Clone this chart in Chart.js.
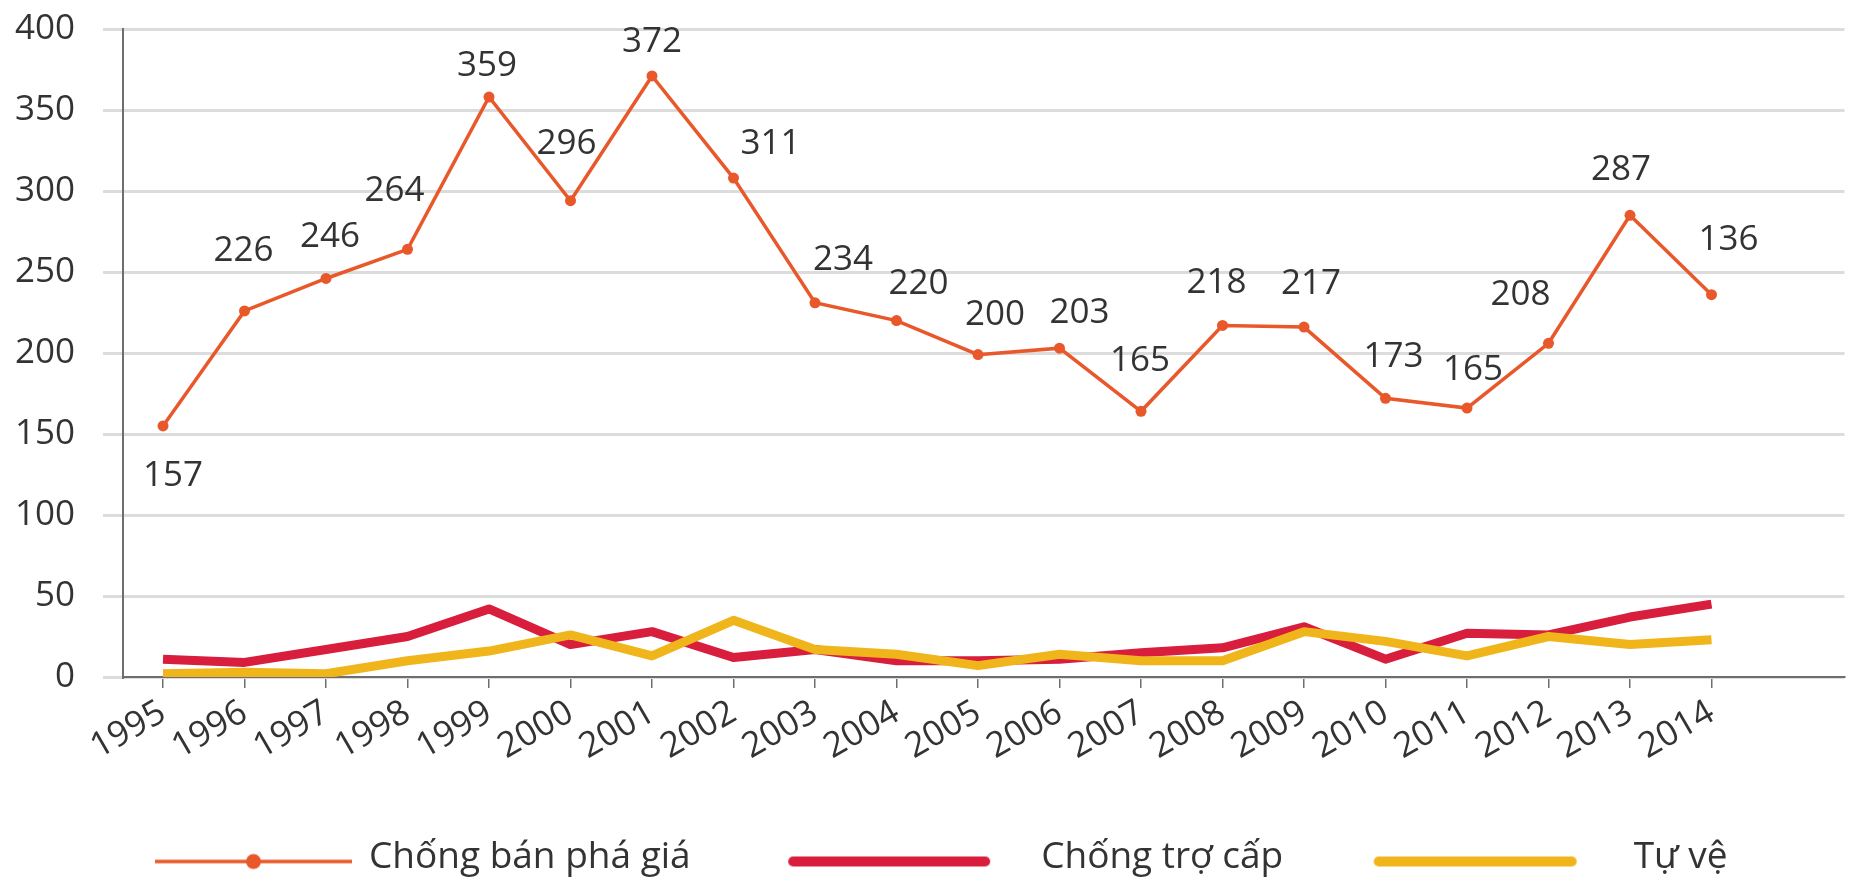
<!DOCTYPE html>
<html><head><meta charset="utf-8">
<script src="https://cdn.jsdelivr.net/npm/chart.js@4.4.1/dist/chart.umd.min.js"></script>
<style>html,body{margin:0;padding:0;background:#fff}#wrap{width:1850px;height:882px;position:relative}</style>
</head><body><div id="wrap"><canvas id="c"></canvas></div>
<script>
const years = [1995,1996,1997,1998,1999,2000,2001,2002,2003,2004,2005,2006,2007,2008,2009,2010,2011,2012,2013,2014];
const antiDumping = [155,226,246,264,358,294,371,308,231,220,199,203,164,217,216,172,166,206,285,236];
const antiDumpingLabels = ["157","226","246","264","359","296","372","311","234","220","200","203","165","218","217","173","165","208","287","136"];
const countervailing = [11,9,17,25,42,20,28,12,17,10,10,11,15,18,31,11,27,26,37,45];
const safeguards = [2,3,2,10,16,26,13,35,17,14,7,14,10,10,28,22,13,25,20,23];
const seriesNames = ["Chống bán phá giá","Chống trợ cấp","Tự vệ"];
const yTickValues = [0,50,100,150,200,250,300,350,400];

const FONT = 'Open Sans';
const TEXT = '#333333';
const ORANGE = '#e9582a', RED = '#d81d3d', YELLOW = '#f1b51c';

// legend symbols (style only)
const LEG_BOX = 322, IMG_W = 325, IMG_H = 30, LINE_Y = 19;
function legendImg(color, width, dot, rightGap, len) {
  const c = document.createElement('canvas');
  c.width = IMG_W; c.height = IMG_H;
  const g = c.getContext('2d');
  const end = IMG_W - rightGap, start = end - len;
  g.strokeStyle = color; g.lineWidth = width; g.lineCap = dot ? 'butt' : 'round';
  const pad = dot ? 0 : width / 2;
  g.beginPath(); g.moveTo(start + pad, LINE_Y); g.lineTo(end - pad, LINE_Y); g.stroke();
  if (dot) { g.fillStyle = color; g.beginPath(); g.arc((start + end) / 2, LINE_Y, 7.5, 0, Math.PI * 2); g.fill(); }
  return c;
}
const legendImgs = [
  legendImg(ORANGE, 3.5, true, 0, 197),
  legendImg(RED, 10, false, 34, 202),
  legendImg(YELLOW, 10, false, 40, 203)
];

const valueLabels = {
  id: 'valueLabels',
  afterDatasetsDraw(chart, args, opts) {
    const meta = chart.getDatasetMeta(0);
    const ctx = chart.ctx;
    ctx.save();
    ctx.font = '35px "' + FONT + '"';
    ctx.fillStyle = TEXT; ctx.textAlign = 'center'; ctx.textBaseline = 'middle';
    meta.data.forEach((pt, i) => ctx.fillText(antiDumpingLabels[i], pt.x + opts.dx[i], pt.y + opts.dy[i]));
    ctx.restore();
  }
};
const legendShift = {
  id: 'legendShift',
  afterLayout(chart, args, opts) {
    const lg = chart.legend;
    if (!lg || !lg.lineWidths) return;
    const p = lg.options.labels.padding;
    const x1 = (lg.left + p + lg.right - lg.lineWidths[0]) / 2;
    const dx = opts.firstX - x1;
    lg.left += dx; lg.right += dx;
  }
};

const toXY = arr => arr.map((v, i) => ({x: years[i], y: v}));

new Chart(document.getElementById('c'), {
  type: 'line',
  data: {
    datasets: [
      {label: seriesNames[0], data: toXY(antiDumping), borderColor: ORANGE, backgroundColor: ORANGE, borderWidth: 3.5, pointRadius: 5.5, pointBackgroundColor: ORANGE, pointBorderWidth: 0, tension: 0, order: 0},
      {label: seriesNames[1], data: toXY(countervailing), borderColor: RED, backgroundColor: RED, borderWidth: 9, pointRadius: 0, tension: 0, borderJoinStyle: 'round', order: 2},
      {label: seriesNames[2], data: toXY(safeguards), borderColor: YELLOW, backgroundColor: YELLOW, borderWidth: 9, pointRadius: 0, tension: 0, borderJoinStyle: 'round', order: 1}
    ]
  },
  plugins: [valueLabels, legendShift],
  options: {
    responsive: true, maintainAspectRatio: false, animation: false,
    layout: {padding: {top: 29, right: 5, bottom: -4, left: 0}},
    scales: {
      x: {
        type: 'linear', min: 1994.509, max: 2015.632,
        afterBuildTicks: s => { s.ticks = years.map(v => ({value: v})); },
        afterFit: s => { s.height = 152; },
        grid: {drawOnChartArea: false, drawTicks: true, tickLength: 11, color: '#6d6e71', lineWidth: 1.5},
        border: {display: true, color: '#6d6e71', width: 2},
        ticks: {autoSkip: false, minRotation: 30, maxRotation: 30, padding: 4, color: TEXT, font: {family: FONT, size: 35}, callback: v => String(v)}
      },
      y: {
        min: 0, max: 400,
        afterBuildTicks: s => { s.ticks = yTickValues.map(v => ({value: v})); },
        afterFit: s => { s.width = 123; s.paddingTop = 0; s.paddingBottom = 0; },
        grid: {color: '#dcdcdc', lineWidth: 3, tickLength: 20, tickColor: '#dcdcdc'},
        border: {display: true, color: '#6d6e71', width: 2},
        ticks: {padding: 28, color: TEXT, font: {family: FONT, size: 35}}
      }
    },
    plugins: {
      tooltip: {enabled: false},
      legendShift: {firstX: 28.5},
      legend: {
        position: 'bottom', align: 'center',
        labels: {
          usePointStyle: true, pointStyleWidth: LEG_BOX, padding: 10, color: TEXT,
          font: {family: FONT, size: 37},
          generateLabels: chart => chart.data.datasets.map((ds, i) => ({
            text: ds.label, pointStyle: legendImgs[i], datasetIndex: i, fontColor: TEXT,
            hidden: false, lineWidth: 0, strokeStyle: 'rgba(0,0,0,0)', fillStyle: 'rgba(0,0,0,0)'
          }))
        }
      },
      valueLabels: {
        dx: [10,-1,4,-13,-2,-4,0,37,28,22,17,20,-1,-6,7,8,6,-28,-9,17],
        dy: [50,-60,-41,-58,-31,-57,-34,-34,-43,-37,-40,-35,-50,-42,-43,-41,-38,-48,-45,-55]
      }
    }
  }
});
</script></body></html>
